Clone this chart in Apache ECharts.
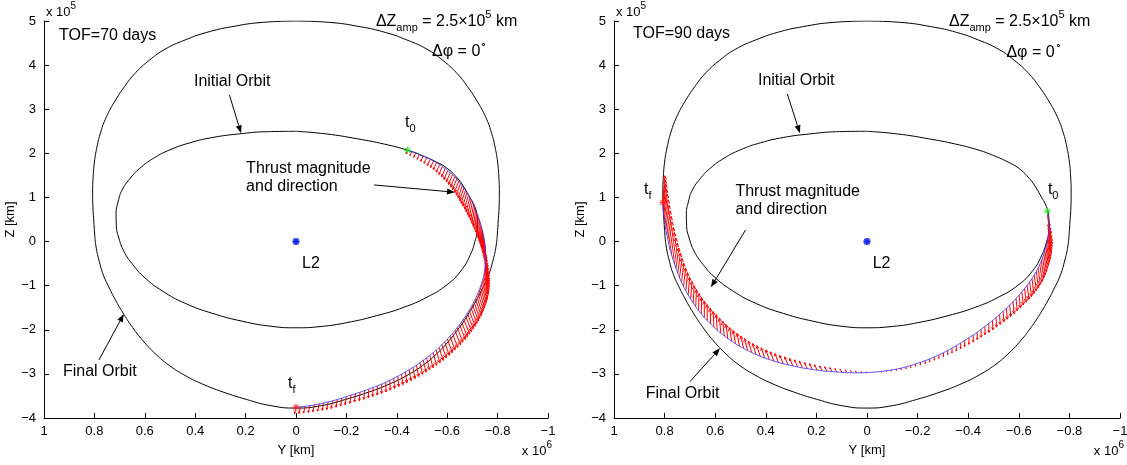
<!DOCTYPE html>
<html>
<head>
<meta charset="utf-8">
<script src="https://cdn.jsdelivr.net/npm/echarts@6/dist/echarts.min.js"></script>
<style>
  html, body { margin: 0; padding: 0; background: #fff; }
  #chart { width: 1127px; height: 465px; }
</style>
</head>
<body>
<div id="chart"></div>
<script>
// Units: Y in 1e6 km, Z in 1e5 km (the axis multipliers are drawn separately).
const Y_MIN = -1, Y_MAX = 1, Y_STEP = 0.2;
const Z_MIN = -4, Z_MAX = 5, Z_STEP = 1;

// Initial (inner) halo orbit outline
const initialOrbitY = [0.0, 0.12, 0.226, 0.33, 0.42, 0.50, 0.565, 0.62, 0.66, 0.69, 0.706, 0.714, 0.713, 0.703, 0.683, 0.648, 0.60, 0.53, 0.44, 0.33, 0.21, 0.10, 0.0,
  -0.10, -0.20, -0.32, -0.428, -0.52, -0.599, -0.655, -0.69, -0.71, -0.72, -0.717, -0.704, -0.69, -0.668, -0.643, -0.60, -0.558, -0.50, -0.443, -0.35, -0.243, -0.12, 0.0];
const initialOrbitZ = [2.50, 2.49, 2.44, 2.36, 2.24, 2.08, 1.89, 1.66, 1.42, 1.17, 0.90, 0.62, 0.36, 0.08, -0.22, -0.52, -0.82, -1.12, -1.40, -1.63, -1.81, -1.92, -1.955,
  -1.925, -1.84, -1.68, -1.49, -1.26, -0.98, -0.66, -0.32, 0.0, 0.30, 0.62, 0.86, 1.0, 1.22, 1.42, 1.66, 1.80, 1.95, 2.07, 2.21, 2.33, 2.44, 2.50];

// Final (outer) halo orbit outline
const finalOrbitY = [0, 0.13, 0.255, 0.355, 0.44, 0.52, 0.582, 0.636, 0.681, 0.72,
  0.752, 0.775, 0.79, 0.80, 0.805, 0.807, 0.806, 0.803, 0.80, 0.794,
  0.782, 0.765, 0.741, 0.714, 0.683, 0.648, 0.607, 0.557, 0.505, 0.445,
  0.375, 0.29, 0.196, 0.10, 0,
  -0.10, -0.196, -0.29, -0.375, -0.445, -0.505, -0.557, -0.607, -0.648, -0.683,
  -0.714, -0.741, -0.765, -0.782, -0.794, -0.80, -0.803, -0.806, -0.807, -0.805,
  -0.80, -0.79, -0.775, -0.752, -0.72, -0.681, -0.636, -0.582, -0.52, -0.44,
  -0.355, -0.255, -0.13, 0];
const finalOrbitZ = [5.0, 4.97, 4.87, 4.74, 4.57, 4.36, 4.11, 3.83, 3.51, 3.17,
  2.83, 2.48, 2.14, 1.80, 1.46, 1.12, 0.78, 0.52, 0.25, -0.10,
  -0.42, -0.75, -1.05, -1.35, -1.65, -1.95, -2.25, -2.55, -2.80, -3.02,
  -3.22, -3.41, -3.58, -3.72, -3.775,
  -3.72, -3.58, -3.41, -3.22, -3.02, -2.80, -2.55, -2.25, -1.95, -1.65,
  -1.35, -1.05, -0.75, -0.42, -0.10, 0.25, 0.52, 0.78, 1.12, 1.46,
  1.80, 2.14, 2.48, 2.83, 3.17, 3.51, 3.83, 4.11, 4.36, 4.57,
  4.74, 4.87, 4.97, 5.0];

// Transfer with TOF = 70 days: trajectory samples and the thrust vector at each sample
const traj70Y = [-0.443, -0.459, -0.475, -0.490, -0.505, -0.519, -0.533, -0.546, -0.558, -0.570, -0.581, -0.592, -0.602, -0.612, -0.621, -0.630, -0.638,
  -0.646, -0.653, -0.660, -0.666, -0.672, -0.678, -0.684, -0.690, -0.695, -0.700, -0.705, -0.709, -0.713, -0.717, -0.721, -0.724,
  -0.728, -0.731, -0.734, -0.737, -0.740, -0.742, -0.744, -0.746, -0.748, -0.749, -0.750, -0.751, -0.752, -0.752, -0.752, -0.752, -0.752, -0.751, -0.750, -0.749, -0.747, -0.745,
  -0.742, -0.739, -0.735, -0.731, -0.727, -0.722, -0.717, -0.712, -0.706, -0.700, -0.694, -0.687, -0.680, -0.673, -0.665, -0.657, -0.649,
  -0.640, -0.631, -0.621, -0.611, -0.601, -0.590, -0.579, -0.568, -0.556, -0.544, -0.531, -0.518, -0.505, -0.492, -0.478, -0.464, -0.449,
  -0.434, -0.419, -0.404, -0.388, -0.372, -0.356, -0.340, -0.323, -0.306, -0.289, -0.272, -0.254, -0.236, -0.218, -0.200, -0.182, -0.164,
  -0.146, -0.128, -0.110, -0.092, -0.073, -0.055, -0.036, -0.018, 0.000];
const traj70Z = [2.07, 2.04, 2.01, 1.976, 1.94, 1.903, 1.865, 1.828, 1.79, 1.746, 1.70, 1.655, 1.61, 1.563, 1.515, 1.468, 1.42,
  1.368, 1.315, 1.263, 1.21, 1.158, 1.105, 1.053, 1.00, 0.945, 0.89, 0.833, 0.775, 0.718, 0.66, 0.605, 0.55,
  0.49, 0.43, 0.37, 0.31, 0.25, 0.19, 0.13, 0.07, 0.01, -0.05, -0.11, -0.17, -0.23, -0.29, -0.35, -0.41, -0.47, -0.53, -0.59, -0.65, -0.715, -0.78,
  -0.845, -0.91, -0.975, -1.04, -1.105, -1.17, -1.235, -1.30, -1.365, -1.43, -1.495, -1.56, -1.625, -1.69, -1.755, -1.82, -1.885,
  -1.95, -2.015, -2.08, -2.145, -2.21, -2.275, -2.34, -2.40, -2.46, -2.52, -2.58, -2.635, -2.69, -2.745, -2.80, -2.853, -2.905,
  -2.955, -3.005, -3.053, -3.10, -3.145, -3.19, -3.23, -3.27, -3.308, -3.345, -3.38, -3.415, -3.448, -3.48, -3.515, -3.55, -3.58,
  -3.61, -3.635, -3.66, -3.68, -3.70, -3.718, -3.735, -3.746, -3.755];
const thrust70Y = [0.006, 0.007, 0.008, 0.009, 0.010, 0.011, 0.012, 0.0125, 0.013, 0.0135, 0.014, 0.0145, 0.015, 0.0155, 0.016, 0.0165, 0.017,
  0.017, 0.017, 0.017, 0.017, 0.0165, 0.016, 0.0155, 0.015, 0.014, 0.013, 0.012, 0.011, 0.0095, 0.008, 0.0065, 0.005,
  0.004, 0.003, 0.002, 0.001, 0, -0.001, -0.002, -0.003, -0.004, -0.005, -0.006, -0.007, -0.008, -0.009, -0.010, -0.011, -0.012, -0.013, -0.014, -0.015, -0.016, -0.017,
  -0.018, -0.019, -0.020, -0.021, -0.021, -0.022, -0.022, -0.023, -0.023, -0.024, -0.024, -0.024, -0.024, -0.024, -0.024, -0.023, -0.023,
  -0.022, -0.022, -0.021, -0.020, -0.019, -0.018, -0.017, -0.016, -0.015, -0.014, -0.013, -0.012, -0.011, -0.010, -0.009, -0.008, -0.007,
  -0.006, -0.005, -0.004, -0.003, -0.002, -0.001, 0, 0.001, 0.002, 0.002, 0.003, 0.003, 0.004, 0.004, 0.005, 0.005, 0.005,
  0.006, 0.006, 0.006, 0.006, 0.006, 0.006, 0.006, 0.006, 0.006];
const thrust70Z = [-0.08, -0.09, -0.10, -0.11, -0.12, -0.13, -0.14, -0.15, -0.16, -0.17, -0.18, -0.19, -0.20, -0.21, -0.22, -0.23, -0.24,
  -0.25, -0.26, -0.27, -0.28, -0.29, -0.30, -0.31, -0.32, -0.33, -0.34, -0.35, -0.36, -0.37, -0.38, -0.39, -0.40,
  -0.41, -0.42, -0.42, -0.43, -0.43, -0.44, -0.44, -0.45, -0.45, -0.45, -0.45, -0.45, -0.45, -0.45, -0.45, -0.44, -0.44, -0.43, -0.43, -0.42, -0.42, -0.41,
  -0.41, -0.405, -0.40, -0.40, -0.395, -0.39, -0.385, -0.38, -0.375, -0.37, -0.365, -0.36, -0.355, -0.35, -0.345, -0.34, -0.335,
  -0.33, -0.325, -0.32, -0.315, -0.31, -0.305, -0.30, -0.295, -0.29, -0.285, -0.28, -0.275, -0.27, -0.265, -0.26, -0.255, -0.25,
  -0.245, -0.24, -0.235, -0.23, -0.225, -0.22, -0.215, -0.21, -0.205, -0.20, -0.197, -0.194, -0.19, -0.187, -0.184, -0.18, -0.177,
  -0.174, -0.17, -0.167, -0.164, -0.16, -0.157, -0.154, -0.15, -0.147];

// Transfer with TOF = 90 days
const traj90Y = [-0.713, -0.715, -0.717, -0.718, -0.719, -0.719, -0.718, -0.717, -0.715, -0.713,
  -0.710, -0.707, -0.703, -0.699, -0.694, -0.689, -0.683, -0.676, -0.669, -0.661,
  -0.652, -0.643, -0.633, -0.623, -0.612, -0.601, -0.589, -0.577, -0.564, -0.551,
  -0.538, -0.524, -0.510, -0.496, -0.481, -0.466, -0.451, -0.436, -0.420, -0.403,
  -0.386, -0.370, -0.353, -0.336, -0.319, -0.302, -0.284, -0.266, -0.248, -0.230,
  -0.211, -0.192, -0.173, -0.154, -0.135, -0.116, -0.096, -0.077, -0.057, -0.038,
  -0.018, 0.002, 0.021, 0.041, 0.060, 0.080, 0.099, 0.119, 0.138, 0.158,
  0.177, 0.197, 0.216, 0.236, 0.255, 0.274, 0.293, 0.312, 0.331, 0.350,
  0.368, 0.386, 0.404, 0.422, 0.439, 0.456, 0.472, 0.488, 0.504, 0.520,
  0.535, 0.550, 0.564, 0.578, 0.592, 0.605, 0.618, 0.631, 0.643, 0.655,
  0.666, 0.677, 0.687, 0.697, 0.707, 0.716, 0.725, 0.733, 0.741, 0.748,
  0.755, 0.761, 0.767, 0.773, 0.778, 0.783, 0.787, 0.791, 0.795, 0.798,
  0.801, 0.803, 0.805, 0.806, 0.807];
const traj90Z = [0.69, 0.62, 0.55, 0.475, 0.40, 0.325, 0.25, 0.175, 0.10, 0.025,
  -0.05, -0.125, -0.20, -0.28, -0.36, -0.44, -0.52, -0.60, -0.68, -0.76,
  -0.84, -0.915, -0.99, -1.065, -1.14, -1.215, -1.29, -1.365, -1.44, -1.51,
  -1.58, -1.65, -1.72, -1.79, -1.86, -1.925, -1.99, -2.055, -2.12, -2.18,
  -2.24, -2.30, -2.36, -2.415, -2.47, -2.52, -2.57, -2.615, -2.66, -2.70,
  -2.74, -2.775, -2.81, -2.84, -2.87, -2.892, -2.91, -2.928, -2.945, -2.955,
  -2.965, -2.971, -2.975, -2.976, -2.975, -2.971, -2.965, -2.958, -2.95, -2.94,
  -2.93, -2.916, -2.90, -2.883, -2.865, -2.843, -2.82, -2.795, -2.77, -2.74,
  -2.71, -2.675, -2.64, -2.60, -2.56, -2.515, -2.47, -2.42, -2.37, -2.315,
  -2.26, -2.20, -2.14, -2.075, -2.01, -1.94, -1.87, -1.795, -1.72, -1.64,
  -1.56, -1.475, -1.39, -1.30, -1.21, -1.115, -1.02, -0.92, -0.82, -0.715,
  -0.61, -0.505, -0.40, -0.29, -0.18, -0.065, 0.05, 0.165, 0.28, 0.395,
  0.51, 0.615, 0.72, 0.805, 0.89];
const thrust90Y = [-0.006, -0.007, -0.008, -0.009, -0.010, -0.010, -0.010, -0.010, -0.010, -0.010,
  -0.010, -0.010, -0.010, -0.010, -0.010, -0.010, -0.010, -0.0095, -0.009, -0.0085,
  -0.008, -0.0075, -0.007, -0.0065, -0.006, -0.0055, -0.005, -0.0045, -0.004, -0.0035,
  -0.003, -0.0025, -0.002, -0.0015, -0.001, -0.0005, 0, 0, 0, 0,
  0, 0, 0, 0, 0, 0, 0, 0, 0, 0,
  0, 0, 0, 0, 0, 0, 0, 0, 0, 0,
  0, 0.0015, 0.003, 0.004, 0.005, 0.006, 0.007, 0.008, 0.009, 0.0095,
  0.010, 0.0105, 0.011, 0.0115, 0.012, 0.0125, 0.013, 0.0135, 0.014, 0.014,
  0.014, 0.014, 0.014, 0.0135, 0.013, 0.0125, 0.012, 0.011, 0.010, 0.009,
  0.008, 0.007, 0.006, 0.005, 0.004, 0.003, 0.002, 0.001, 0.000, -0.001,
  -0.002, -0.003, -0.004, -0.005, -0.006, -0.007, -0.008, -0.009, -0.010, -0.0105,
  -0.011, -0.0115, -0.012, -0.0125, -0.013, -0.013, -0.013, -0.013, -0.013, -0.0125,
  -0.012, -0.011, -0.010, -0.009, -0.008];
const thrust90Z = [-0.38, -0.39, -0.40, -0.41, -0.42, -0.42, -0.42, -0.42, -0.42, -0.415,
  -0.41, -0.405, -0.40, -0.395, -0.39, -0.385, -0.38, -0.37, -0.36, -0.35,
  -0.34, -0.33, -0.32, -0.31, -0.30, -0.29, -0.28, -0.27, -0.26, -0.25,
  -0.24, -0.23, -0.22, -0.21, -0.20, -0.19, -0.18, -0.17, -0.16, -0.15,
  -0.14, -0.13, -0.12, -0.11, -0.10, -0.09, -0.08, -0.075, -0.07, -0.065,
  -0.06, -0.055, -0.05, -0.045, -0.04, -0.035, -0.03, -0.025, -0.02, -0.01,
  0.01, 0.02, 0.03, 0.04, 0.05, 0.06, 0.07, 0.08, 0.09, 0.10,
  0.11, 0.12, 0.13, 0.14, 0.15, 0.16, 0.17, 0.18, 0.19, 0.20,
  0.21, 0.22, 0.23, 0.24, 0.25, 0.26, 0.27, 0.28, 0.29, 0.30,
  0.31, 0.32, 0.33, 0.34, 0.35, 0.355, 0.36, 0.365, 0.37, 0.375,
  0.38, 0.385, 0.39, 0.395, 0.40, 0.41, 0.42, 0.43, 0.44, 0.45,
  0.46, 0.47, 0.48, 0.49, 0.50, 0.51, 0.52, 0.53, 0.54, 0.55,
  0.56, 0.57, 0.58, 0.59, 0.60];

// L2 libration point (origin of the Y-Z frame)
const l2Point = [0, 0];

// Text notes: [panel, Y, Z, text, align]
const annotations = [
  [0, 0.940, 4.68, '{m|TOF=70 days}', 'left'],
  [0, -0.317, 4.99, '{m|\u0394Z}{b|amp}{m| = 2.5\u00d710}{p|5}{m| km}', 'left'],
  [0, -0.540, 4.30, '{m|\u0394\u03c6 = 0}{p|\u2218}', 'left'],
  [0, 0.405, 3.62, '{m|Initial Orbit}', 'left'],
  [0, -0.433, 2.69, '{m|t}{b|0}', 'left'],
  [0, 0.198, 1.44, '{m2|Thrust magnitude}\n{m2|and direction}', 'left'],
  [0, -0.024, -0.51, '{m|L2}', 'left'],
  [0, 0.925, -2.94, '{m|Final Orbit}', 'left'],
  [0, 0.032, -3.21, '{m|t}{b|f}', 'left'],
  [1, 0.925, 4.71, '{m|TOF=90 days}', 'left'],
  [1, -0.324, 4.99, '{m|\u0394Z}{b|amp}{m| = 2.5\u00d710}{p|5}{m| km}', 'left'],
  [1, -0.551, 4.28, '{m|\u0394\u03c6 = 0}{p|\u2218}', 'left'],
  [1, 0.431, 3.64, '{m|Initial Orbit}', 'left'],
  [1, -0.715, 1.17, '{m|t}{b|0}', 'left'],
  [1, 0.881, 1.17, '{m|t}{b|f}', 'left'],
  [1, 0.520, 0.92, '{m2|Thrust magnitude}\n{m2|and direction}', 'left'],
  [1, -0.0225, -0.51, '{m|L2}', 'left'],
  [1, 0.875, -3.44, '{m|Final Orbit}', 'left']
];

// Pointer arrows: [panel, Y from, Z from, Y to, Z to]
const pointers = [
  [0, 0.264, 3.32, 0.218, 2.455],
  [0, -0.310, 1.283, -0.631, 1.118],
  [0, 0.782, -2.684, 0.683, -1.641],
  [1, 0.315, 3.346, 0.265, 2.455],
  [1, 0.480, 0.263, 0.617, -1.036],
  [1, 0.700, -3.176, 0.581, -2.420]
];

const FONT = '"Liberation Sans", Arial, Helvetica, sans-serif';
const RICH = {
  m: { fontSize: 16, lineHeight: 24, fontFamily: FONT, fill: '#000', color: '#000' },
  m2: { fontSize: 16, lineHeight: 18, fontFamily: FONT, fill: '#000', color: '#000' },
  b: { fontSize: 11, lineHeight: 8, verticalAlign: 'bottom', fontFamily: FONT, fill: '#000', color: '#000' },
  p: { fontSize: 11, lineHeight: 12, verticalAlign: 'top', fontFamily: FONT, fill: '#000', color: '#000' },
  a: { fontSize: 13, lineHeight: 22, fontFamily: FONT, fill: '#000', color: '#000' },
  q: { fontSize: 10, lineHeight: 10, verticalAlign: 'top', fontFamily: FONT, fill: '#000', color: '#000' }
};

const zip = (a, b) => a.map((v, i) => [v, b[i]]);
const zip4 = (a, b, c, d) => a.map((v, i) => [v, b[i], c[i], d[i]]);

function tickText(v) {
  const r = Math.round(v * 10) / 10;
  return r === 0 ? '0' : String(r).replace('-', '\u2212');
}

function axesFor(g) {
  const common = {
    gridIndex: g,
    type: 'value',
    splitLine: { show: false },
    axisLine: { show: true, onZero: false, lineStyle: { color: '#000', width: 1 } },
    axisTick: { show: true, inside: true, length: 5, lineStyle: { color: '#000', width: 1 } },
    axisLabel: { color: '#000', fontSize: 13, fontFamily: FONT, formatter: tickText },
    nameLocation: 'middle',
    nameTextStyle: { color: '#000', fontSize: 13, fontFamily: FONT }
  };
  return {
    x: Object.assign({}, common, { min: Y_MIN, max: Y_MAX, interval: Y_STEP, inverse: true, name: 'Y [km]', nameGap: 26,
      axisLabel: Object.assign({}, common.axisLabel, { margin: 7 }) }),
    y: Object.assign({}, common, { min: Z_MIN, max: Z_MAX, interval: Z_STEP, name: 'Z [km]', nameGap: 24,
      axisLabel: Object.assign({}, common.axisLabel, { margin: 8 }) })
  };
}

// One quiver arrow: shaft from the trajectory sample plus a small open head
function quiverRender(params, api) {
  const y = api.value(0), z = api.value(1);
  const p0 = api.coord([y, z]);
  const p1 = api.coord([y + api.value(2), z + api.value(3)]);
  const vx = p1[0] - p0[0], vy = p1[1] - p0[1];
  const len = Math.hypot(vx, vy);
  if (len < 0.6) return null;
  const ux = vx / len, uy = vy / len;
  const h = Math.min(len * 0.25, 3.5), w = h * 0.5;
  const bx = p1[0] - ux * h, by = p1[1] - uy * h;
  const st = { stroke: '#ff0000', lineWidth: 1, fill: null };
  return {
    type: 'group',
    children: [
      { type: 'polyline', shape: { points: [p0, p1] }, style: st },
      { type: 'polyline', shape: { points: [[bx - uy * w, by + ux * w], p1, [bx + uy * w, by - ux * w]] }, style: st }
    ]
  };
}

function starRender(color) {
  return function (params, api) {
    const c = api.coord([api.value(0), api.value(1)]);
    const r = 3.5, d = r * 0.72;
    const st = { stroke: color, lineWidth: 1, fill: null };
    return {
      type: 'group',
      children: [
        { type: 'line', shape: { x1: c[0] - r, y1: c[1], x2: c[0] + r, y2: c[1] }, style: st },
        { type: 'line', shape: { x1: c[0], y1: c[1] - r, x2: c[0], y2: c[1] + r }, style: st },
        { type: 'line', shape: { x1: c[0] - d, y1: c[1] - d, x2: c[0] + d, y2: c[1] + d }, style: st },
        { type: 'line', shape: { x1: c[0] - d, y1: c[1] + d, x2: c[0] + d, y2: c[1] - d }, style: st }
      ]
    };
  };
}

function pointerRender(params, api) {
  const p0 = api.coord([api.value(0), api.value(1)]);
  const p1 = api.coord([api.value(2), api.value(3)]);
  const vx = p1[0] - p0[0], vy = p1[1] - p0[1];
  const len = Math.hypot(vx, vy);
  const ux = vx / len, uy = vy / len;
  const h = 8, w = 3;
  const bx = p1[0] - ux * h, by = p1[1] - uy * h;
  return {
    type: 'group',
    children: [
      { type: 'line', shape: { x1: p0[0], y1: p0[1], x2: bx, y2: by }, style: { stroke: '#000', lineWidth: 1 } },
      { type: 'polygon', shape: { points: [p1, [bx - uy * w, by + ux * w], [bx + uy * w, by - ux * w]] }, style: { fill: '#000', stroke: null } }
    ]
  };
}

function panelSeries(g, tY, tZ, fY, fZ) {
  const traj = zip(tY, tZ);
  return [
    { type: 'line', xAxisIndex: g, yAxisIndex: g, data: zip(initialOrbitY, initialOrbitZ), smooth: 0.5, showSymbol: false, silent: true,
      lineStyle: { color: '#000', width: 1 }, z: 2 },
    { type: 'line', xAxisIndex: g, yAxisIndex: g, data: zip(finalOrbitY, finalOrbitZ), smooth: 0.5, showSymbol: false, silent: true,
      lineStyle: { color: '#000', width: 1 }, z: 2 },
    { type: 'custom', xAxisIndex: g, yAxisIndex: g, coordinateSystem: 'cartesian2d', data: zip4(tY, tZ, fY, fZ),
      encode: { x: 0, y: 1 }, renderItem: quiverRender, silent: true, z: 3 },
    { type: 'line', xAxisIndex: g, yAxisIndex: g, data: traj, smooth: 0.4, showSymbol: false, silent: true,
      lineStyle: { color: '#3a3aff', width: 1, opacity: 0.85 }, z: 4 },
    { type: 'scatter', xAxisIndex: g, yAxisIndex: g, data: [l2Point], symbol: 'circle', symbolSize: 7, silent: true,
      itemStyle: { color: '#1f3cff' }, z: 5 },
    { type: 'custom', xAxisIndex: g, yAxisIndex: g, coordinateSystem: 'cartesian2d', data: [l2Point],
      encode: { x: 0, y: 1 }, renderItem: starRender('#0a1fd0'), silent: true, z: 6 },
    { type: 'custom', xAxisIndex: g, yAxisIndex: g, coordinateSystem: 'cartesian2d', data: [traj[0]],
      encode: { x: 0, y: 1 }, renderItem: starRender('#22dd22'), silent: true, z: 6 },
    { type: 'custom', xAxisIndex: g, yAxisIndex: g, coordinateSystem: 'cartesian2d', data: [traj[traj.length - 1]],
      encode: { x: 0, y: 1 }, renderItem: starRender('#ff2020'), silent: true, z: 6 },
    { type: 'custom', xAxisIndex: g, yAxisIndex: g, coordinateSystem: 'cartesian2d',
      data: pointers.filter(p => p[0] === g).map(p => p.slice(1)),
      encode: { x: [0, 2], y: [1, 3] }, renderItem: pointerRender, silent: true, clip: false, z: 7 }
  ];
}

const ax0 = axesFor(0), ax1 = axesFor(1);
const option = {
  animation: false,
  backgroundColor: '#fff',
  textStyle: { fontFamily: FONT },
  grid: [
    { left: 44, width: 504, top: 21, height: 397, containLabel: false, outerBoundsMode: 'none' },
    { left: 614, width: 506, top: 21, height: 397, containLabel: false, outerBoundsMode: 'none' }
  ],
  xAxis: [ax0.x, ax1.x],
  yAxis: [ax0.y, ax1.y],
  series: panelSeries(0, traj70Y, traj70Z, thrust70Y, thrust70Z)
    .concat(panelSeries(1, traj90Y, traj90Z, thrust90Y, thrust90Z))
};

const chart = echarts.init(document.getElementById('chart'), null, { renderer: 'canvas' });
chart.setOption(option);

// Notes and axis multipliers, placed through the axes' own coordinate conversion
const graphics = annotations.map(([g, y, z, text, align]) => {
  const pt = chart.convertToPixel({ gridIndex: g }, [y, z]);
  return { type: 'text', x: pt[0], y: pt[1], silent: true, z: 20,
    style: { text, rich: RICH, align, verticalAlign: 'middle', fill: '#000', font: '16px ' + FONT } };
});
[0, 1].forEach(g => {
  const topLeft = chart.convertToPixel({ gridIndex: g }, [Y_MAX, Z_MAX]);
  const bottomRight = chart.convertToPixel({ gridIndex: g }, [Y_MIN, Z_MIN]);
  graphics.push({ type: 'text', x: topLeft[0] + 2, y: topLeft[1] - 9, silent: true, z: 20,
    style: { text: '{a|x 10}{q|5}', rich: RICH, align: 'left', verticalAlign: 'middle', fill: '#000', font: '13px ' + FONT } });
  graphics.push({ type: 'text', x: bottomRight[0] + 4, y: bottomRight[1] + 33, silent: true, z: 20,
    style: { text: '{a|x 10}{q|6}', rich: RICH, align: 'right', verticalAlign: 'middle', fill: '#000', font: '13px ' + FONT } });
});
chart.setOption({ graphic: graphics });
</script>
</body>
</html>
